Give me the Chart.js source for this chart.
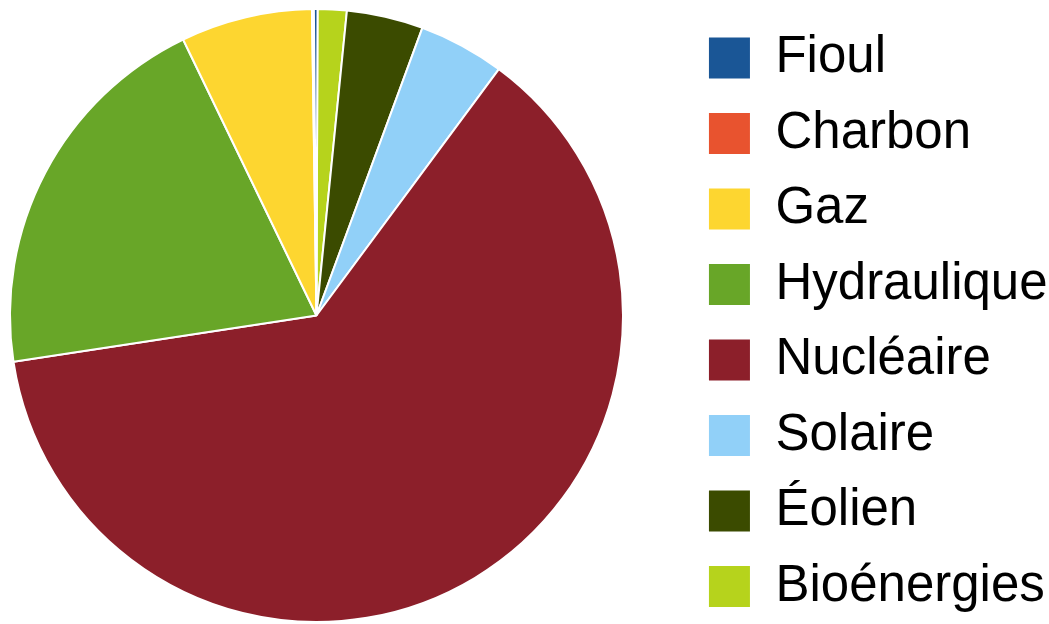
<!DOCTYPE html>
<html>
<head>
<meta charset="utf-8">
<script src="https://cdn.jsdelivr.net/npm/chart.js@4"></script>
<style>
  html, body { margin: 0; padding: 0; background: #ffffff; overflow: hidden; }
  #wrap { width: 1049px; height: 624px; overflow: hidden; position: relative; }
  #c { position: absolute; left: -65px; top: 0; }
</style>
</head>
<body>
<div id="wrap"><canvas id="c" width="1114" height="624"></canvas></div>
<script>
// Categories in legend order
const categories = ['Fioul', 'Charbon', 'Gaz', 'Hydraulique', 'Nucléaire', 'Solaire', 'Éolien', 'Bioénergies'];
// Share of production (%)
const shares = [0.19, 0.10, 6.93, 20.25, 62.44, 4.53, 4.03, 1.53];
const colors = ['#1a5696', '#e8532f', '#fdd630', '#68a628', '#8c1f2a', '#91d0f8', '#3b4b00', '#b6d31c'];

// The reference runs counter-clockwise from 12 o'clock; draw clockwise in reverse order
const drawLabels = categories.slice().reverse();
const drawValues = shares.slice().reverse();
const drawColors = colors.slice().reverse();

const FONT = "'Liberation Sans', Arial, Helvetica, sans-serif";

new Chart(document.getElementById('c'), {
  type: 'pie',
  data: {
    labels: drawLabels,
    datasets: [{
      data: drawValues,
      backgroundColor: drawColors,
      borderColor: '#ffffff',
      borderWidth: 2
    }]
  },
  options: {
    responsive: false,
    devicePixelRatio: 1,
    animation: false,
    events: [],
    rotation: 0.2,
    layout: { padding: { top: 8, bottom: 1, left: 0, right: -8.6 } },
    plugins: {
      tooltip: { enabled: false },
      legend: {
        position: 'right',
        align: 'end',
        labels: {
          boxWidth: 41,
          boxHeight: 41,
          padding: 11,
          color: '#000000',
          font: { family: FONT, size: 51, lineHeight: '64.5px' },
          generateLabels: function () {
            return categories.map(function (name, i) {
              return {
                text: i < categories.length - 1 ? [name] : name,
                fillStyle: colors[i],
                strokeStyle: colors[i],
                lineWidth: 0,
                fontColor: '#000000',
                hidden: false,
                index: i
              };
            });
          }
        }
      }
    }
  }
});
</script>
</body>
</html>
